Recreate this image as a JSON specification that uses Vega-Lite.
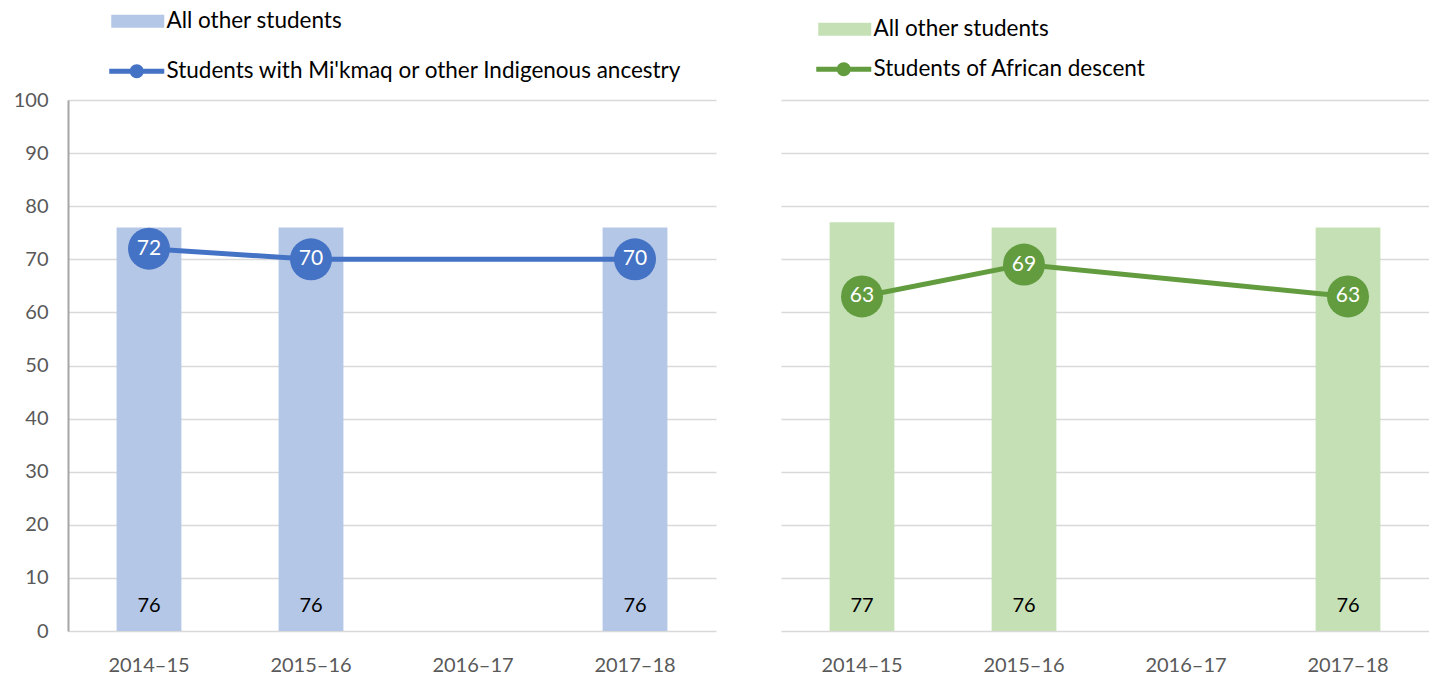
{
  "$schema": "https://vega.github.io/schema/vega-lite/v6.json",
  "padding": {"left": 13, "top": 10, "right": 0, "bottom": 0},
  "config": {
    "view": {"stroke": null},
    "font": "Lato",
    "axis": {"labelFont": "Lato", "labelFontSize": 20, "labelColor": "#595959", "ticks": false, "gridColor": "#d9d9d9", "gridWidth": 1.5},
    "legend": {"labelFont": "Lato", "labelFontSize": 22.5, "labelColor": "#000000", "labelLimit": 0, "padding": 0}
  },
  "spacing": 65,
  "resolve": {"scale": {"fill": "independent", "stroke": "independent"}, "legend": {"fill": "independent", "stroke": "independent"}},
  "hconcat": [
    {
      "width": 648,
      "height": 531,
      "layer": [
        {
          "data": {"values": [
            {"year": "2014–15", "series": "All other students", "value": 76},
            {"year": "2015–16", "series": "All other students", "value": 76},
            {"year": "2017–18", "series": "All other students", "value": 76}
          ]},
          "mark": {"type": "bar"},
          "encoding": {
            "x": {"field": "year", "type": "nominal", "title": null,
              "scale": {"domain": ["2014–15", "2015–16", "2016–17", "2017–18"], "paddingInner": 0.6, "paddingOuter": 0.3},
              "axis": {"labelAngle": 0, "labelPadding": 24, "domain": false, "grid": false}},
            "y": {"field": "value", "type": "quantitative", "title": null,
              "scale": {"domain": [0, 100], "nice": false},
              "axis": {"values": [0, 10, 20, 30, 40, 50, 60, 70, 80, 90, 100], "labelPadding": 20, "domain": true, "domainColor": "#a6a6a6", "domainWidth": 2, "grid": true}},
            "fill": {"field": "series", "type": "nominal", "scale": {"range": ["#b4c7e7"]},
              "legend": {"orient": "none", "legendX": 58.5, "legendY": -90, "title": null, "symbolType": "M-2.65,-0.65H2.65V0.65H-2.65Z", "symbolSize": 400, "symbolStrokeWidth": 0, "labelOffset": 17.5}}
          }
        },
        {
          "data": {"values": [
            {"year": "2014–15", "value": 76},
            {"year": "2015–16", "value": 76},
            {"year": "2017–18", "value": 76}
          ]},
          "mark": {"type": "text", "fontSize": 20, "color": "#000000", "dy": -25, "baseline": "middle"},
          "encoding": {
            "x": {"field": "year", "type": "nominal"},
            "y": {"datum": 0},
            "text": {"field": "value", "type": "quantitative"}
          }
        },
        {
          "data": {"values": [
            {"year": "2014–15", "series": "Students with Mi'kmaq or other Indigenous ancestry", "value": 72},
            {"year": "2015–16", "series": "Students with Mi'kmaq or other Indigenous ancestry", "value": 70},
            {"year": "2017–18", "series": "Students with Mi'kmaq or other Indigenous ancestry", "value": 70}
          ]},
          "mark": {"type": "line", "strokeWidth": 5},
          "encoding": {
            "x": {"field": "year", "type": "nominal"},
            "y": {"field": "value", "type": "quantitative"},
            "stroke": {"field": "series", "type": "nominal", "scale": {"range": ["#4472c4"]},
              "legend": {"orient": "none", "legendX": 57.5, "legendY": -40, "title": null, "symbolType": "M-2.75,-0.25H2.75V0.25H-2.75Z M-0.7,0A0.7,0.7 0 1,1 0.7,0A0.7,0.7 0 1,1 -0.7,0Z", "symbolSize": 400, "symbolStrokeWidth": 0, "symbolFillColor": "#4472c4", "labelOffset": 18.5}}
          }
        },
        {
          "data": {"values": [
            {"year": "2014–15", "value": 72},
            {"year": "2015–16", "value": 70},
            {"year": "2017–18", "value": 70}
          ]},
          "mark": {"type": "point", "filled": true, "opacity": 1, "size": 1764, "color": "#4472c4"},
          "encoding": {
            "x": {"field": "year", "type": "nominal"},
            "y": {"field": "value", "type": "quantitative"}
          }
        },
        {
          "data": {"values": [
            {"year": "2014–15", "value": 72},
            {"year": "2015–16", "value": 70},
            {"year": "2017–18", "value": 70}
          ]},
          "mark": {"type": "text", "fontSize": 21, "color": "#ffffff", "baseline": "middle"},
          "encoding": {
            "x": {"field": "year", "type": "nominal"},
            "y": {"field": "value", "type": "quantitative"},
            "text": {"field": "value", "type": "quantitative"}
          }
        }
      ]
    },
    {
      "width": 648,
      "height": 531,
      "layer": [
        {
          "data": {"values": [
            {"year": "2014–15", "series": "All other students", "value": 77},
            {"year": "2015–16", "series": "All other students", "value": 76},
            {"year": "2017–18", "series": "All other students", "value": 76}
          ]},
          "mark": {"type": "bar"},
          "encoding": {
            "x": {"field": "year", "type": "nominal", "title": null,
              "scale": {"domain": ["2014–15", "2015–16", "2016–17", "2017–18"], "paddingInner": 0.6, "paddingOuter": 0.3},
              "axis": {"labelAngle": 0, "labelPadding": 24, "domain": false, "grid": false}},
            "y": {"field": "value", "type": "quantitative", "title": null,
              "scale": {"domain": [0, 100], "nice": false},
              "axis": {"values": [0, 10, 20, 30, 40, 50, 60, 70, 80, 90, 100], "labels": false, "domain": false, "grid": true}},
            "fill": {"field": "series", "type": "nominal", "scale": {"range": ["#c5e0b4"]},
              "legend": {"orient": "none", "legendX": 52.5, "legendY": -82, "title": null, "symbolType": "M-2.65,-0.65H2.65V0.65H-2.65Z", "symbolSize": 400, "symbolStrokeWidth": 0, "labelOffset": 17.5}}
          }
        },
        {
          "data": {"values": [
            {"year": "2014–15", "value": 77},
            {"year": "2015–16", "value": 76},
            {"year": "2017–18", "value": 76}
          ]},
          "mark": {"type": "text", "fontSize": 20, "color": "#000000", "dy": -25, "baseline": "middle"},
          "encoding": {
            "x": {"field": "year", "type": "nominal"},
            "y": {"datum": 0},
            "text": {"field": "value", "type": "quantitative"}
          }
        },
        {
          "data": {"values": [
            {"year": "2014–15", "series": "Students of African descent", "value": 63},
            {"year": "2015–16", "series": "Students of African descent", "value": 69},
            {"year": "2017–18", "series": "Students of African descent", "value": 63}
          ]},
          "mark": {"type": "line", "strokeWidth": 5},
          "encoding": {
            "x": {"field": "year", "type": "nominal"},
            "y": {"field": "value", "type": "quantitative"},
            "stroke": {"field": "series", "type": "nominal", "scale": {"range": ["#629c3f"]},
              "legend": {"orient": "none", "legendX": 51.5, "legendY": -42, "title": null, "symbolType": "M-2.75,-0.25H2.75V0.25H-2.75Z M-0.7,0A0.7,0.7 0 1,1 0.7,0A0.7,0.7 0 1,1 -0.7,0Z", "symbolSize": 400, "symbolStrokeWidth": 0, "symbolFillColor": "#629c3f", "labelOffset": 18.5}}
          }
        },
        {
          "data": {"values": [
            {"year": "2014–15", "value": 63},
            {"year": "2015–16", "value": 69},
            {"year": "2017–18", "value": 63}
          ]},
          "mark": {"type": "point", "filled": true, "opacity": 1, "size": 1764, "color": "#629c3f"},
          "encoding": {
            "x": {"field": "year", "type": "nominal"},
            "y": {"field": "value", "type": "quantitative"}
          }
        },
        {
          "data": {"values": [
            {"year": "2014–15", "value": 63},
            {"year": "2015–16", "value": 69},
            {"year": "2017–18", "value": 63}
          ]},
          "mark": {"type": "text", "fontSize": 21, "color": "#ffffff", "baseline": "middle"},
          "encoding": {
            "x": {"field": "year", "type": "nominal"},
            "y": {"field": "value", "type": "quantitative"},
            "text": {"field": "value", "type": "quantitative"}
          }
        }
      ]
    }
  ]
}
